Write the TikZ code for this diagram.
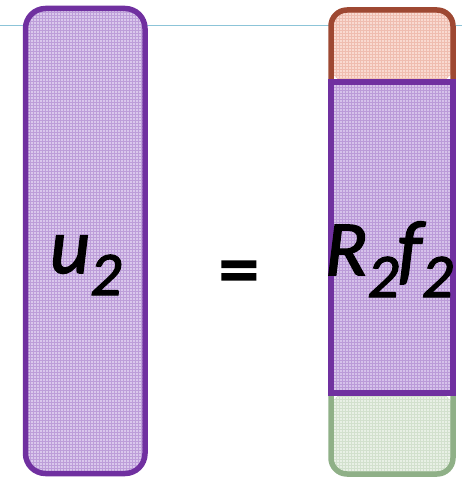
\documentclass[tikz,border=0pt]{standalone}
\usepackage{fontspec}
\setmainfont{Carlito}
\newfontface\calit{Carlito Italic}[FakeBold=2]
\newfontface\calup{Carlito}[FakeBold=3]
\definecolor{purpleline}{RGB}{112,48,160}
\definecolor{purplefill}{RGB}{214,194,234}
\definecolor{purplegrid}{RGB}{170,130,205}
\definecolor{redline}{RGB}{158,72,50}
\definecolor{redfill}{RGB}{248,214,204}
\definecolor{redgrid}{RGB}{232,170,155}
\definecolor{greenline}{RGB}{143,176,135}
\definecolor{greenfill}{RGB}{230,238,226}
\definecolor{greengrid}{RGB}{196,214,190}
\definecolor{guide}{RGB}{140,196,216}
\tikzset{
  bigtext/.style={inner sep=0pt, outer sep=0pt, font=\fontsize{78}{78}\calit, text=black},
  boxline/.style={line width=5.5pt, line join=round},
  gridfill/.style={line width=0.9pt, opacity=0.6}
}
\newcommand{\subtwo}{\raisebox{-22pt}{\fontsize{62}{62}\calit 2}}
\begin{document}
\begin{tikzpicture}[x=1pt,y=-1pt]
\useasboundingbox (0,0) rectangle (462,478);
% guide line
\draw[guide, line width=1pt] (0,26) -- (462,26);
% left box
\fill[purplefill, fill opacity=0.9, rounded corners=20pt] (25.5,8.5) rectangle (145,473.5);
\begin{scope}
  \clip[rounded corners=20pt] (25.5,8.5) rectangle (145,473.5);
  \draw[gridfill, purplegrid, step=3pt] (24,6) grid (147,476);
\end{scope}
\draw[boxline, purpleline, rounded corners=20pt] (25.5,8.5) rectangle (145,473.5);
% right top box
\fill[redfill, fill opacity=0.9, rounded corners=16pt] (331,82) -- (331,10) -- (453,10) -- (453,82) -- cycle;
\begin{scope}
  \clip[rounded corners=16pt] (331,82) -- (331,10) -- (453,10) -- (453,82) -- cycle;
  \draw[gridfill, redgrid, step=3pt] (330,9) grid (454,83);
\end{scope}
\draw[boxline, redline, rounded corners=16pt] (331,82) -- (331,10) -- (453,10) -- (453,82);
% right bottom box
\fill[greenfill, fill opacity=0.9, rounded corners=16pt] (331,393) -- (331,474) -- (453,474) -- (453,393) -- cycle;
\begin{scope}
  \clip[rounded corners=16pt] (331,393) -- (331,474) -- (453,474) -- (453,393) -- cycle;
  \draw[gridfill, greengrid, step=3pt] (330,392) grid (454,475);
\end{scope}
\draw[boxline, greenline, rounded corners=16pt] (331,393) -- (331,474) -- (453,474) -- (453,393);
% right middle box
\fill[purplefill] (331,82) rectangle (453,393);
\draw[gridfill, purplegrid, step=3pt] (332,83) grid (452,392);
\draw[boxline, purpleline, line join=miter] (331,82) rectangle (453,393);
% texts
\node[bigtext, anchor=base west] (u) at (50,273) {u\subtwo};
\node[bigtext, anchor=base west, font=\fontsize{80}{80}\calup] (eq) at (219,296) {=};
\node[bigtext, anchor=base west] (rf) at (325,275) {R\subtwo\kern-1pt f\subtwo};
\end{tikzpicture}
\end{document}
